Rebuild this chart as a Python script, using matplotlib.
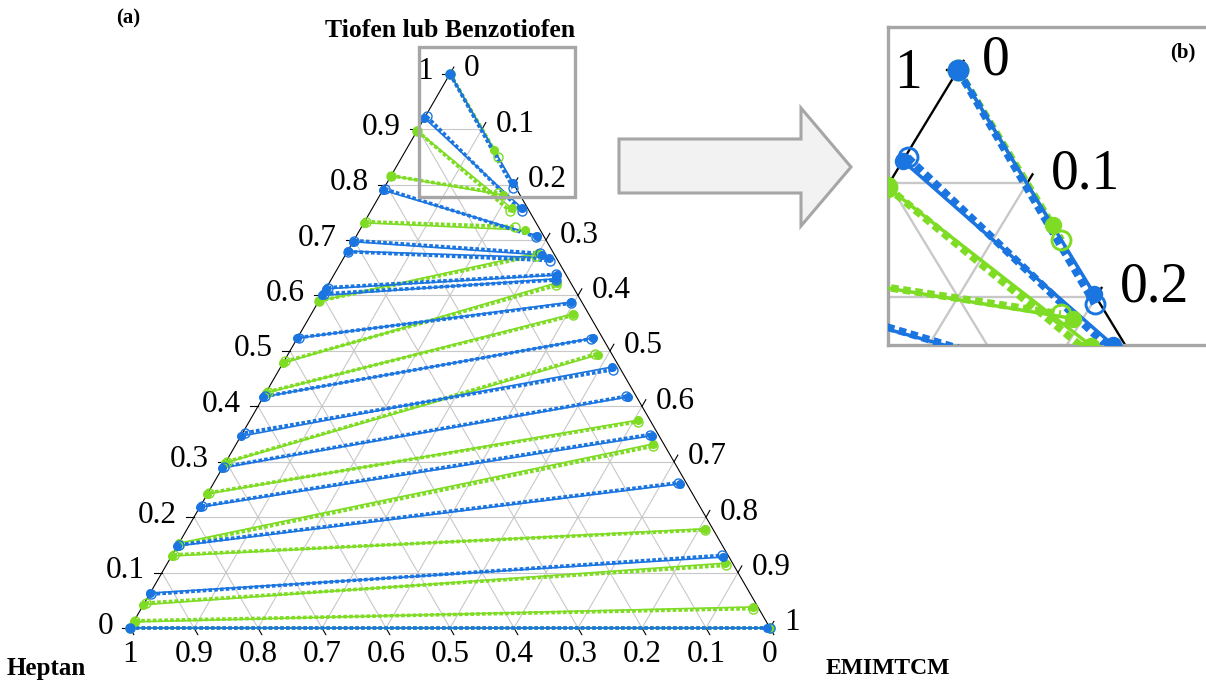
import numpy as np
import matplotlib.pyplot as plt
from matplotlib.patches import Polygon, Rectangle

plt.rcParams['font.family'] = ['Liberation Serif', 'DejaVu Serif']

# tie lines: thiophene (T) and heptane (H) mole fractions
# raffinate end (heptane-rich side) and extract end (IL-rich side)
blue_raf_T = [1.000, 0.920, 0.790, 0.697, 0.680, 0.612, 0.600, 0.523, 0.417, 0.346, 0.289, 0.218, 0.148, 0.063, 0.000]
blue_raf_H = [0.000, 0.080, 0.210, 0.303, 0.320, 0.388, 0.400, 0.477, 0.583, 0.654, 0.711, 0.782, 0.852, 0.937, 1.000]
blue_ext_T = [0.803, 0.758, 0.708, 0.673, 0.668, 0.637, 0.630, 0.588, 0.523, 0.471, 0.417, 0.347, 0.260, 0.128, 0.000]
blue_ext_H = [0.000, 0.009, 0.010, 0.020, 0.012, 0.014, 0.020, 0.017, 0.015, 0.011, 0.013, 0.011, 0.011, 0.009, 0.005]
# model (open symbols)
blue_cal_raf_T = [1.000, 0.923, 0.792, 0.699, 0.679, 0.614, 0.603, 0.524, 0.418, 0.352, 0.291, 0.220, 0.150, 0.061, 0.000]
blue_cal_raf_H = [0.000, 0.075, 0.206, 0.300, 0.320, 0.384, 0.395, 0.474, 0.580, 0.645, 0.707, 0.778, 0.848, 0.937, 1.000]
blue_cal_ext_T = [0.794, 0.752, 0.706, 0.676, 0.663, 0.638, 0.628, 0.586, 0.522, 0.466, 0.418, 0.349, 0.262, 0.131, 0.000]
blue_cal_ext_H = [0.004, 0.012, 0.013, 0.022, 0.012, 0.016, 0.020, 0.018, 0.018, 0.013, 0.016, 0.013, 0.012, 0.010, 0.000]

green_raf_T = [1.000, 0.897, 0.816, 0.731, 0.590, 0.478, 0.424, 0.298, 0.242, 0.153, 0.130, 0.042, 0.011, 0.000]
green_raf_H = [0.000, 0.103, 0.184, 0.269, 0.410, 0.522, 0.576, 0.702, 0.758, 0.847, 0.870, 0.958, 0.989, 1.000]
green_ext_T = [0.863, 0.757, 0.781, 0.718, 0.677, 0.623, 0.567, 0.493, 0.375, 0.332, 0.179, 0.117, 0.038, 0.000]
green_ext_H = [0.000, 0.025, 0.026, 0.024, 0.024, 0.021, 0.024, 0.022, 0.019, 0.017, 0.012, 0.012, 0.008, 0.000]
green_cal_raf_T = [1.000, 0.897, 0.816, 0.733, 0.590, 0.481, 0.426, 0.300, 0.244, 0.150, 0.132, 0.045, 0.013, 0.000]
green_cal_raf_H = [0.000, 0.103, 0.184, 0.265, 0.410, 0.517, 0.572, 0.698, 0.754, 0.848, 0.866, 0.953, 0.985, 1.000]
green_cal_ext_T = [0.850, 0.752, 0.785, 0.724, 0.672, 0.618, 0.564, 0.494, 0.372, 0.328, 0.177, 0.113, 0.035, 0.000]
green_cal_ext_H = [0.000, 0.030, 0.033, 0.036, 0.030, 0.025, 0.026, 0.026, 0.021, 0.019, 0.013, 0.012, 0.009, 0.000]

tick_vals = np.round(np.arange(0, 1.01, 0.1), 1)
tick_text = ['0', '0.1', '0.2', '0.3', '0.4', '0.5', '0.6', '0.7', '0.8', '0.9', '1']

BLUE = '#1b75e0'
GREEN = '#7fdc24'
GRID = '#c8c8c8'
BOX = '#a6a6a6'
S3 = np.sqrt(3) / 2


def tern(T, H):
    T = np.asarray(T, dtype=float)
    H = np.asarray(H, dtype=float)
    return (1 - T - H) + T / 2, T * S3


def tie_lines(ax, rT, rH, eT, eH, crT, crH, ceT, ceH, col, k, clip):
    for i in range(len(rT)):
        xc, yc = tern([crT[i], ceT[i]], [crH[i], ceH[i]])
        ax.plot(xc, yc, color=col, lw=2.6 * k, ls=(0, (1, 0.6)), zorder=3, clip_on=clip)
        ax.plot(xc, yc, 'o', mfc='none', mec=col, ms=6.5 * k, mew=1.0 * k, zorder=4, clip_on=clip)
        xe, ye = tern([rT[i], eT[i]], [rH[i], eH[i]])
        ax.plot(xe, ye, color=col, lw=1.2 * k, zorder=3, clip_on=clip)
        ax.plot(xe, ye, 'o', color=col, ms=5.5 * k, zorder=4, clip_on=clip)


def ternary(ax, k, tick_len, fs, off_l, off_r, off_b, clip, left=None, right=None, bottom=None):
    # grid
    for f in tick_vals[1:-1]:
        ax.plot([f / 2, 1 - f / 2], [f * S3, f * S3], color=GRID, lw=0.8 * k, zorder=1, clip_on=clip)
        ax.plot([f, f + (1 - f) / 2], [0, (1 - f) * S3], color=GRID, lw=0.8 * k, zorder=1, clip_on=clip)
        ax.plot([1 - f, (1 - f) / 2], [0, (1 - f) * S3], color=GRID, lw=0.8 * k, zorder=1, clip_on=clip)
    # frame
    ax.plot([0, 1, 0.5, 0], [0, 0, S3, 0], color='black', lw=0.8 * k, zorder=2, clip_on=clip)

    for i, (v, s) in enumerate(zip(tick_vals, tick_text)):
        # left axis: thiophene
        xl, yl = v / 2, v * S3
        ax.plot([xl, xl - tick_len], [yl, yl], color='black', lw=0.8 * k, zorder=2, clip_on=clip)
        if left is None or i in left:
            ax.annotate(s, (xl, yl), xytext=off_l, textcoords='offset pixels', ha='right',
                        va='center', fontsize=fs, annotation_clip=False)
        # right axis: EMIMTCM
        xr, yr = v + (1 - v) / 2, (1 - v) * S3
        ax.plot([xr, xr + tick_len * 0.5], [yr, yr + tick_len * S3], color='black', lw=0.8 * k,
                zorder=2, clip_on=clip)
        if right is None or i in right:
            ax.annotate(s, (xr, yr), xytext=off_r, textcoords='offset pixels', ha='left',
                        va='center', fontsize=fs, annotation_clip=False)
        # bottom axis: heptane
        xb = 1 - v
        ax.plot([xb, xb + tick_len * 0.5], [0, -tick_len * S3], color='black', lw=0.8 * k,
                zorder=2, clip_on=clip)
        if bottom is None or i in bottom:
            ax.annotate(s, (xb, 0), xytext=off_b, textcoords='offset pixels', ha='center',
                        va='top', fontsize=fs, annotation_clip=False)

    tie_lines(ax, green_raf_T, green_raf_H, green_ext_T, green_ext_H,
              green_cal_raf_T, green_cal_raf_H, green_cal_ext_T, green_cal_ext_H, GREEN, k, clip)
    tie_lines(ax, blue_raf_T, blue_raf_H, blue_ext_T, blue_ext_H,
              blue_cal_raf_T, blue_cal_raf_H, blue_cal_ext_T, blue_cal_ext_H, BLUE, k, clip)


fig = plt.figure(figsize=(12.06, 6.86), dpi=100)

# (a) full diagram
ax = fig.add_axes([0, 0, 1, 1])
ax.set_xlim(-0.203125, 1.68125)
ax.set_ylim(-0.090625, 0.98125)
ax.axis('off')
ternary(ax, 1.0, 0.012, 22.5, (-17, 2), (14, 5), (0, -12), False)

ax.add_patch(Rectangle((0.4516, 0.6734), 0.2437, 0.2344, fill=False, ec=BOX, lw=2.4, zorder=6))
ax.text(0.5, 0.934, 'Tiofen lub Benzotiofen', ha='center', va='center', fontsize=18.5, fontweight='bold')
ax.text(-0.003, 0.953, '(a)', ha='center', va='center', fontsize=15, fontweight='bold')
ax.text(-0.131, -0.0625, 'Heptan', ha='center', va='center', fontsize=18, fontweight='bold')
ax.text(1.184, -0.0625, 'EMIMTCM', ha='center', va='center', fontsize=17, fontweight='bold')

# arrow between panels (figure pixels)
W, H = 1206, 686
arrow = [(619, 139), (801, 139), (801, 108), (851, 167), (801, 226), (801, 193), (619, 193)]
fig.patches.append(Polygon([(x / W, 1 - y / H) for x, y in arrow], closed=True,
                           transform=fig.transFigure, fc='#f2f2f2', ec=BOX, lw=2.2))

# (b) zoom on the top corner
axb = fig.add_axes([888 / W, 1 - 345 / H, 330 / W, 318 / H])
ternary(axb, 2.1, 0.008, 40, (-36, -4), (24, 9), (0, -30), True,
        left=[10], right=[0, 1, 2], bottom=[])
axb.set_xlim(0.4493, 0.6884)
axb.set_ylim(0.6562, 0.8988)
axb.set_xticks([])
axb.set_yticks([])
for sp in axb.spines.values():
    sp.set_color(BOX)
    sp.set_linewidth(2.4)
fig.text(1183 / W, 1 - 52 / H, '(b)', ha='center', va='center', fontsize=15, fontweight='bold')

fig.savefig('out.png', dpi=100)
